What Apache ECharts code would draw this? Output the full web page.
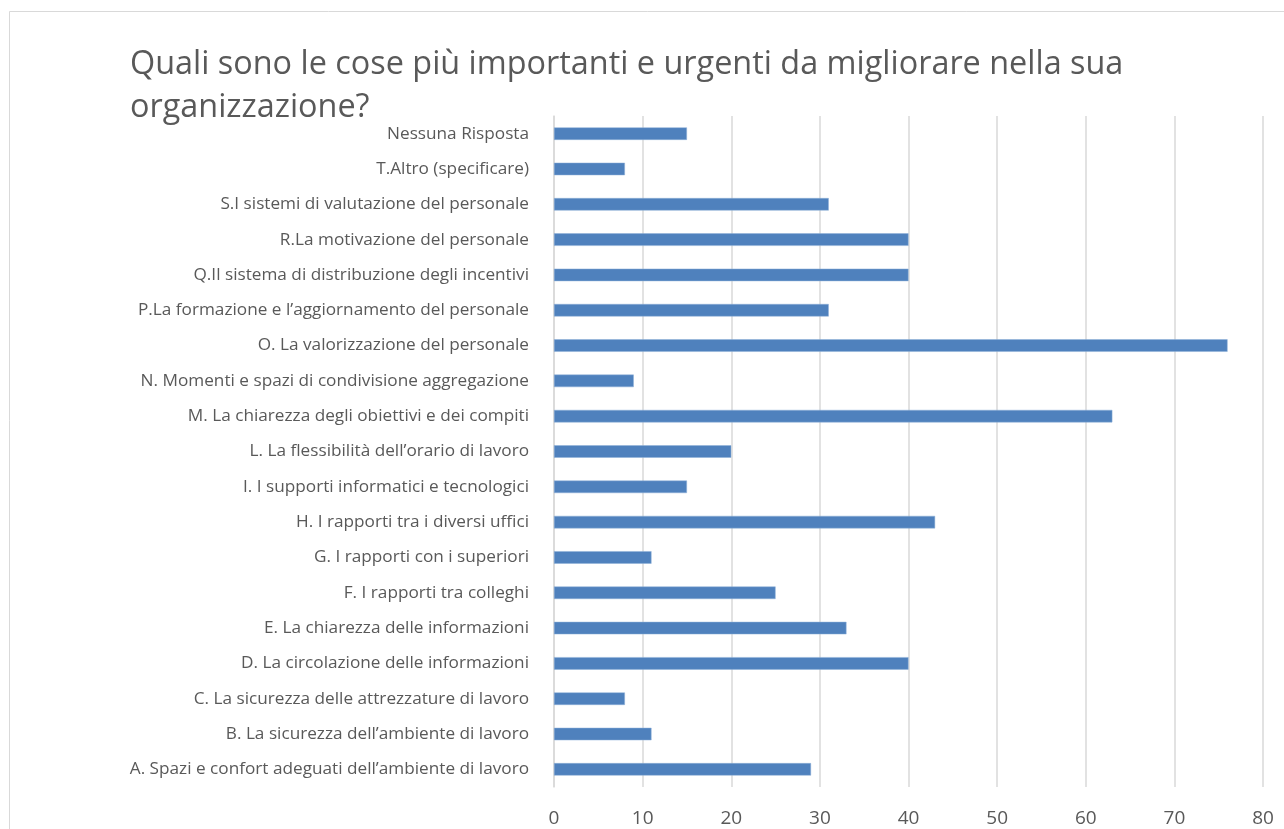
<!DOCTYPE html>
<html>
<head>
<meta charset="utf-8">
<script src="https://cdn.jsdelivr.net/npm/echarts@6/dist/echarts.min.js"></script>
<style>
    html, body { margin: 0; padding: 0; background: #fff; }
    #chart { width: 1284px; height: 829px; }
</style>
</head>
<body>
<div id="chart"></div>
<script>
// categorie dal basso verso l'alto
const categories = [
    'A. Spazi e confort adeguati dell’ambiente di lavoro',
    'B. La sicurezza dell’ambiente di lavoro',
    'C. La sicurezza delle attrezzature di lavoro',
    'D. La circolazione delle informazioni',
    'E. La chiarezza delle informazioni',
    'F. I rapporti tra colleghi',
    'G. I rapporti con i superiori',
    'H. I rapporti tra i diversi uffici',
    'I. I supporti informatici e tecnologici',
    'L. La flessibilità dell’orario di lavoro',
    'M. La chiarezza degli obiettivi e dei compiti',
    'N. Momenti e spazi di condivisione aggregazione',
    'O. La valorizzazione del personale',
    'P.La formazione e l’aggiornamento del personale',
    'Q.Il sistema di distribuzione degli incentivi',
    'R.La motivazione del personale',
    'S.I sistemi di valutazione del personale',
    'T.Altro (specificare)',
    'Nessuna Risposta'
]
const values = [29, 11, 8, 40, 33, 25, 11, 43, 15, 20, 63, 9, 76, 31, 40, 40, 31, 8, 15]
const titleText = 'Quali sono le cose più importanti e urgenti da migliorare nella sua\norganizzazione?'

const font = '"Open Sans", "Noto Sans", sans-serif'
const grey = '#595959'

const chart = echarts.init(document.getElementById('chart'))
chart.setOption({
    animation: false,
    backgroundColor: '#fff',
    textStyle: { fontFamily: font },
    title: {
        text: titleText,
        left: 125,
        top: 38,
        textStyle: {
            fontFamily: font,
            fontSize: 32.4,
            fontWeight: 'normal',
            color: grey,
            lineHeight: 43
        }
    },
    graphic: [{
        type: 'rect',
        shape: { x: 9.5, y: 11.5, width: 1400, height: 1000 },
        style: { fill: 'none', stroke: '#d9d9d9', lineWidth: 1 },
        silent: true
    }],
    grid: { left: 554, right: 21, top: 116, bottom: 42 },
    xAxis: {
        type: 'value',
        min: 0,
        max: 80,
        interval: 10,
        axisLine: { show: false },
        axisTick: { show: false },
        axisLabel: { color: grey, fontSize: 19, margin: 22 },
        splitLine: { lineStyle: { color: '#d9d9d9', width: 1.5 } }
    },
    yAxis: {
        type: 'category',
        data: categories,
        axisLine: { lineStyle: { color: '#d9d9d9', width: 1.5 } },
        axisTick: { show: false },
        axisLabel: { color: grey, fontSize: 17.2, margin: 25 }
    },
    series: [{
        type: 'bar',
        data: values,
        barWidth: 12.5,
        itemStyle: { color: '#4f81bd', borderColor: '#8fb0d8', borderWidth: 0.5 }
    }]
})
</script>
</body>
</html>
